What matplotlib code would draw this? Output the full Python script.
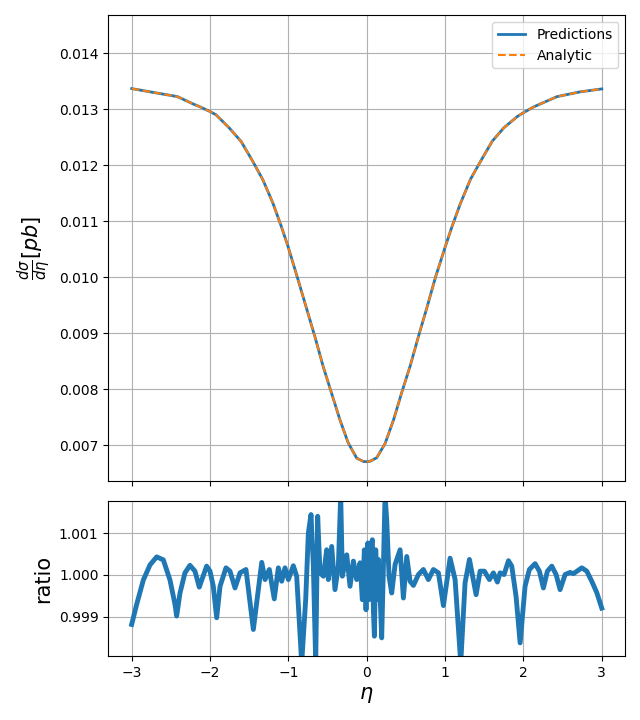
import numpy as np
import matplotlib
matplotlib.use('Agg')
import matplotlib.pyplot as plt

# 上图：截面分布（从图中读取的节点）
eta_xs = [-3.0, -2.726, -2.417, -2.21, -2.137, -2.0, -1.923, -1.752, -1.603,
          -1.453, -1.325, -1.197, -1.09, -1.004, -0.876, -0.769, -0.662, -0.556,
          -0.449, -0.342, -0.235, -0.128, -0.043, 0.0, 0.043, 0.128, 0.235,
          0.342, 0.449, 0.556, 0.662, 0.769, 0.879, 1.004, 1.09, 1.197, 1.325,
          1.453, 1.603, 1.752, 1.923, 1.983, 2.13, 2.21, 2.43, 2.726, 3.0]
xs_pred = [0.013368, 0.01330, 0.013225, 0.01309, 0.013048, 0.012958, 0.012899,
           0.012661, 0.012423, 0.012065, 0.011738, 0.011321, 0.010905, 0.010548,
           0.009952, 0.009446, 0.00894, 0.008405, 0.007929, 0.007452, 0.007036,
           0.006768, 0.006708, 0.006704, 0.006712, 0.006775, 0.00703, 0.00745,
           0.00795, 0.00842, 0.00895, 0.00946, 0.010005, 0.01055, 0.01091,
           0.01132, 0.01175, 0.01207, 0.01243, 0.01267, 0.01287, 0.012923,
           0.01304, 0.01309, 0.013225, 0.01331, 0.013362]
xs_analytic = list(xs_pred)

# 下图：比值
eta_ratio = [-3.0, -2.936, -2.851, -2.766, -2.681, -2.596, -2.511, -2.447, -2.426,
             -2.383, -2.32, -2.256, -2.192, -2.137, -2.043, -2.0, -1.958, -1.915,
             -1.872, -1.796, -1.745, -1.681, -1.617, -1.541,
             -1.447, -1.340, -1.298, -1.243, -1.180, -1.128, -1.085, -1.043,
             -1.0, -0.937, -0.894, -0.830, -0.779, -0.745, -0.711, -0.681,
             -0.651, -0.626, -0.596, -0.553, -0.511, -0.490, -0.447, -0.405,
             -0.362, -0.332, -0.311, -0.255, -0.213, -0.170, -0.128, -0.085,
             -0.056, -0.030, -0.009, 0.013, 0.030, 0.047, 0.072, 0.085, 0.098,
             0.115, 0.132, 0.149, 0.170, 0.191, 0.213, 0.234, 0.255, 0.285,
             0.319, 0.362, 0.426, 0.468, 0.511, 0.553, 0.596, 0.660, 0.723,
             0.787, 0.851, 0.915, 0.979, 1.064, 1.128, 1.200, 1.255, 1.311,
             1.396, 1.447, 1.502, 1.566, 1.617, 1.668, 1.702, 1.753, 1.809,
             1.851, 1.906, 1.958, 2.021, 2.076, 2.149, 2.204, 2.255, 2.306,
             2.362, 2.417, 2.468, 2.532, 2.596, 2.638, 2.745, 2.809, 2.872,
             2.936, 3.0]
ratio = [0.99882, 0.99930, 0.99988, 1.00024, 1.00043, 1.00036, 0.99988, 0.99930,
         0.99902, 0.99957, 1.00005, 1.00023, 1.00009, 0.99971, 1.00021, 1.00009,
         0.99973, 0.99898, 0.99973, 1.00017, 1.00009, 0.99969, 1.00005, 1.00013,
         0.99870, 1.00030, 0.99989, 1.00013, 0.99943, 1.00017, 0.99985, 1.00017,
         0.99989, 1.00022, 0.99997, 0.99790, 0.99941, 1.00100, 1.00144, 1.00021,
         0.99790, 1.00140, 1.00005, 0.99997, 1.00060, 0.99989, 1.00068, 0.99965,
         1.00021, 1.00190, 0.99997, 1.00048, 0.99973, 1.00033, 0.99989, 1.00029,
         0.99941, 1.00060, 0.99917, 1.00076, 0.99941, 1.00068, 1.00084, 0.99917,
         0.99854, 1.00060, 0.99941, 1.00037, 0.99957, 0.99850, 1.00021, 1.00190,
         1.00132, 0.99997, 0.99957, 1.00025, 1.00060, 0.99945, 1.00044, 0.99985,
         0.99975, 1.00001, 1.00013, 0.99989, 1.00013, 1.00005, 0.99927, 1.00040,
         0.99989, 0.99790, 0.99981, 1.00037, 0.99953, 1.00009, 1.00009, 0.99989,
         1.00005, 0.99983, 1.00005, 1.00001, 1.00034, 1.00021, 0.99949, 0.99838,
         0.99973, 1.00013, 1.00027, 1.00009, 0.99969, 1.00009, 1.00021, 1.00001,
         0.99965, 1.00001, 1.00006, 1.00003, 1.00017, 1.00009, 0.99985, 0.99958,
         0.99921]

fig = plt.figure(figsize=(6.4, 7.2), dpi=100)
ax1 = fig.add_axes([0.169, 0.332, 0.808, 0.647])
ax2 = fig.add_axes([0.169, 0.089, 0.808, 0.215], sharex=ax1)

ax1.plot(eta_xs, xs_pred, color='C0', linewidth=2, label='Predictions')
ax1.plot(eta_xs, xs_analytic, color='C1', linestyle='--', linewidth=1.5, label='Analytic')
ax1.set_ylim(0.00636, 0.01468)
ax1.set_ylabel(r'$\frac{d\sigma}{d\eta}[pb]$', fontsize=15)
ax1.legend(loc='upper right')
ax1.grid(True)
ax1.tick_params(labelbottom=False)

ax2.plot(eta_ratio, ratio, color='C0', linewidth=3.5, solid_joinstyle='round')
ax2.set_ylim(0.99807, 1.00176)
ax2.set_yticks([0.999, 1.000, 1.001])
ax2.set_ylabel('ratio', fontsize=15)
ax2.set_xlabel(r'$\eta$', fontsize=15)
ax2.grid(True)
ax2.set_xlim(-3.3, 3.3)

plt.savefig('out.png', dpi=100)
